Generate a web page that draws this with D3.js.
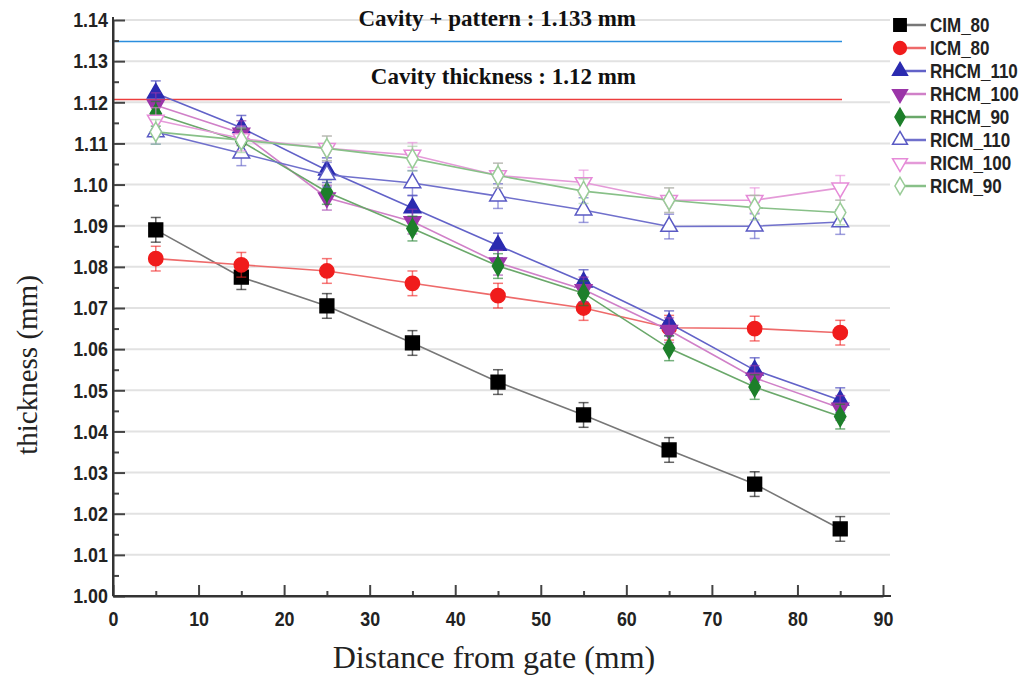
<html>
<script src="https://d3js.org/d3.v7.min.js"></script>
<style>
body { margin: 0; background: #fff; }
.tick text { font-family: "Liberation Sans", Arial, sans-serif; font-weight: bold; fill: #222; }
</style>
<body>
<svg width="1033" height="677"></svg>
<script>
// distance from gate (mm)
var distances = [5, 15, 25, 35, 45, 55, 65, 75, 85];
var seriesNames = ["CIM_80", "ICM_80", "RHCM_110", "RHCM_100", "RHCM_90", "RICM_110", "RICM_100", "RICM_90"];
var cim80   = [1.089, 1.0775, 1.0705, 1.0615, 1.052, 1.044, 1.0355, 1.0272, 1.0163];
var icm80   = [1.082, 1.0805, 1.079, 1.076, 1.073, 1.070, 1.0652, 1.0650, 1.064];
var rhcm110 = [1.1222, 1.1138, 1.1035, 1.0943, 1.0852, 1.0763, 1.0663, 1.0549, 1.0476];
var rhcm100 = [1.1193, 1.1125, 1.0968, 1.091, 1.081, 1.0745, 1.0646, 1.053, 1.0457];
var rhcm90  = [1.1172, 1.1105, 1.0982, 1.0893, 1.0802, 1.0736, 1.0602, 1.0508, 1.0436];
var ricm110 = [1.1128, 1.1076, 1.1024, 1.1004, 1.0972, 1.0938, 1.0898, 1.0899, 1.0909];
var ricm100 = [1.1157, 1.1112, 1.1088, 1.1072, 1.1022, 1.1005, 1.0962, 1.0962, 1.0992];
var ricm90  = [1.1128, 1.1108, 1.1088, 1.1063, 1.1022, 1.0984, 1.0962, 1.0944, 1.0932];
var errBar  = [0.003, 0.003, 0.003, 0.003, 0.003, 0.003, 0.003, 0.003, 0.003];
var yTicks = [1.00, 1.01, 1.02, 1.03, 1.04, 1.05, 1.06, 1.07, 1.08, 1.09, 1.10, 1.11, 1.12, 1.13, 1.14];
var xTicks = [0, 10, 20, 30, 40, 50, 60, 70, 80, 90];
var refLines = [
  {value: 1.1348, label: "Cavity + pattern : 1.133 mm", color: "#2b8ede"},
  {value: 1.1207, label: "Cavity thickness : 1.12 mm", color: "#ec3d3d"}
];

var allValues = [cim80, icm80, rhcm110, rhcm100, rhcm90, ricm110, ricm100, ricm90];
var styles = [
  {shape: d3.symbolSquare, size: 190, rot: 0, fill: "#000", stroke: "#000", line: "#777"},
  {shape: d3.symbolCircle, size: 160, rot: 0, fill: "#f01c1c", stroke: "#f01c1c", line: "#ee6a6a"},
  {shape: d3.symbolTriangle, size: 120, rot: 0, fill: "#2b2bb0", stroke: "#2b2bb0", line: "#6262c8"},
  {shape: d3.symbolTriangle, size: 120, rot: 180, fill: "#9b35a8", stroke: "#9b35a8", line: "#d080c8"},
  {shape: d3.symbolDiamond, size: 110, rot: 0, fill: "#1d7f2a", stroke: "#1d7f2a", line: "#6aa86a"},
  {shape: d3.symbolTriangle, size: 120, rot: 0, fill: "#fff", stroke: "#5a5ac4", line: "#7070cc"},
  {shape: d3.symbolTriangle, size: 120, rot: 180, fill: "#fff", stroke: "#e68ad8", line: "#e49ad8"},
  {shape: d3.symbolDiamond, size: 110, rot: 0, fill: "#fff", stroke: "#9acc98", line: "#88c088"}
];

var svg = d3.select("svg");
var x = d3.scaleLinear().domain([0, 90]).range([113, 883]);
var y = d3.scaleLinear().domain([1.00, 1.14]).range([596, 20]);

// gridlines
svg.append("g").selectAll("line").data(yTicks.slice(1)).enter().append("line")
  .attr("x1", 116).attr("x2", 890)
  .attr("y1", function(d){ return y(d); }).attr("y2", function(d){ return y(d); })
  .attr("stroke", "#e2e2e2").attr("stroke-width", 2);

// reference lines
refLines.forEach(function(r){
  svg.append("line").attr("x1", 113).attr("x2", 842)
    .attr("y1", y(r.value)).attr("y2", y(r.value))
    .attr("stroke", r.color).attr("stroke-width", 1.5);
  svg.append("text").attr("x", 636).attr("y", y(r.value) - 15)
    .attr("text-anchor", "end")
    .style("font-family", "'Liberation Serif', 'Times New Roman', serif")
    .style("font-weight", "bold").style("font-size", "23px").attr("fill", "#111")
    .text(r.label);
});

// axes
var yAxis = svg.append("g").attr("transform", "translate(113,0)")
  .call(d3.axisRight(y).tickValues(yTicks).tickFormat(d3.format(".2f")).tickSize(12).tickSizeOuter(0));
yAxis.selectAll(".tick text").attr("x", -6).attr("text-anchor", "end").style("font-size", "21px")
  .attr("transform", "scale(0.85,1)");
svg.append("g").attr("transform", "translate(113,0)")
  .call(d3.axisRight(y).tickValues(d3.range(1.005, 1.14, 0.01)).tickFormat("").tickSize(6).tickSizeOuter(0))
  .select(".domain").remove();

var xAxis = svg.append("g").attr("transform", "translate(0,596)")
  .call(d3.axisTop(x).tickValues(xTicks).tickFormat(d3.format("d")).tickSize(11).tickSizeOuter(0));
xAxis.selectAll(".tick text").attr("y", 15).attr("dy", "0.71em").style("font-size", "21px")
  .attr("transform", "scale(0.85,1)");
svg.append("g").attr("transform", "translate(0,596)")
  .call(d3.axisTop(x).tickValues(d3.range(5, 90, 10)).tickFormat("").tickSize(5).tickSizeOuter(0))
  .select(".domain").remove();
svg.append("line").attr("x1", 113).attr("x2", 891).attr("y1", 596).attr("y2", 596).attr("stroke", "#333").attr("stroke-width", 2);
svg.append("line").attr("x1", 113).attr("x2", 113).attr("y1", 17).attr("y2", 596).attr("stroke", "#333").attr("stroke-width", 2);
svg.selectAll(".domain").attr("stroke", "#333").attr("stroke-width", 2);
svg.selectAll(".tick line").attr("stroke", "#444").attr("stroke-width", 2);

// axis titles
svg.append("text").attr("x", 494).attr("y", 668).attr("text-anchor", "middle")
  .style("font-family", "'Liberation Serif', 'Times New Roman', serif").style("font-size", "32px").attr("fill", "#222")
  .text("Distance from gate (mm)");
svg.append("text").attr("transform", "translate(37,365) rotate(-90)").attr("text-anchor", "middle")
  .style("font-family", "'Liberation Serif', 'Times New Roman', serif").style("font-size", "29px").attr("fill", "#222")
  .text("thickness (mm)");

// series
var line = d3.line().x(function(d){ return x(d.x); }).y(function(d){ return y(d.y); });
allValues.forEach(function(vals, i){
  var st = styles[i];
  var pts = distances.map(function(dv, j){ return {x: dv, y: vals[j], e: errBar[j]}; });
  var g = svg.append("g");
  g.append("path").datum(pts).attr("d", line).attr("fill", "none").attr("stroke", st.line).attr("stroke-width", 1.6);
  var eb = g.selectAll(".eb").data(pts).enter().append("g").attr("stroke", st.stroke).attr("stroke-opacity", 0.6).attr("stroke-width", 1.5);
  eb.append("line").attr("x1", function(d){ return x(d.x); }).attr("x2", function(d){ return x(d.x); })
    .attr("y1", function(d){ return y(d.y - d.e); }).attr("y2", function(d){ return y(d.y + d.e); });
  [-1, 1].forEach(function(s){
    eb.append("line").attr("x1", function(d){ return x(d.x) - 5; }).attr("x2", function(d){ return x(d.x) + 5; })
      .attr("y1", function(d){ return y(d.y + s * d.e); }).attr("y2", function(d){ return y(d.y + s * d.e); });
  });
  g.selectAll(".m").data(pts).enter().append("path")
    .attr("d", d3.symbol().type(st.shape).size(st.size))
    .attr("transform", function(d){ return "translate(" + x(d.x) + "," + y(d.y) + ") rotate(" + st.rot + ")"; })
    .attr("fill", st.fill).attr("stroke", st.stroke).attr("stroke-width", 1.5);
});

// legend
var leg = svg.append("g").attr("transform", "translate(900,25)");
seriesNames.forEach(function(name, i){
  var st = styles[i];
  var row = leg.append("g").attr("transform", "translate(0," + (i * 23) + ")");
  row.append("line").attr("x1", 0).attr("x2", 26).attr("stroke", st.line).attr("stroke-width", 2.5);
  row.append("path").attr("d", d3.symbol().type(st.shape).size(st.size * 0.8))
    .attr("transform", "rotate(" + st.rot + ")")
    .attr("fill", st.fill).attr("stroke", st.stroke).attr("stroke-width", 1.5);
  row.append("text").attr("x", 30 / 0.85).attr("y", 7)
    .attr("transform", "scale(0.85,1)")
    .style("font-family", "'Liberation Sans', Arial, sans-serif")
    .style("font-weight", "bold").style("font-size", "20px").attr("fill", "#222")
    .text(name);
});
</script>
</body>
</html>
